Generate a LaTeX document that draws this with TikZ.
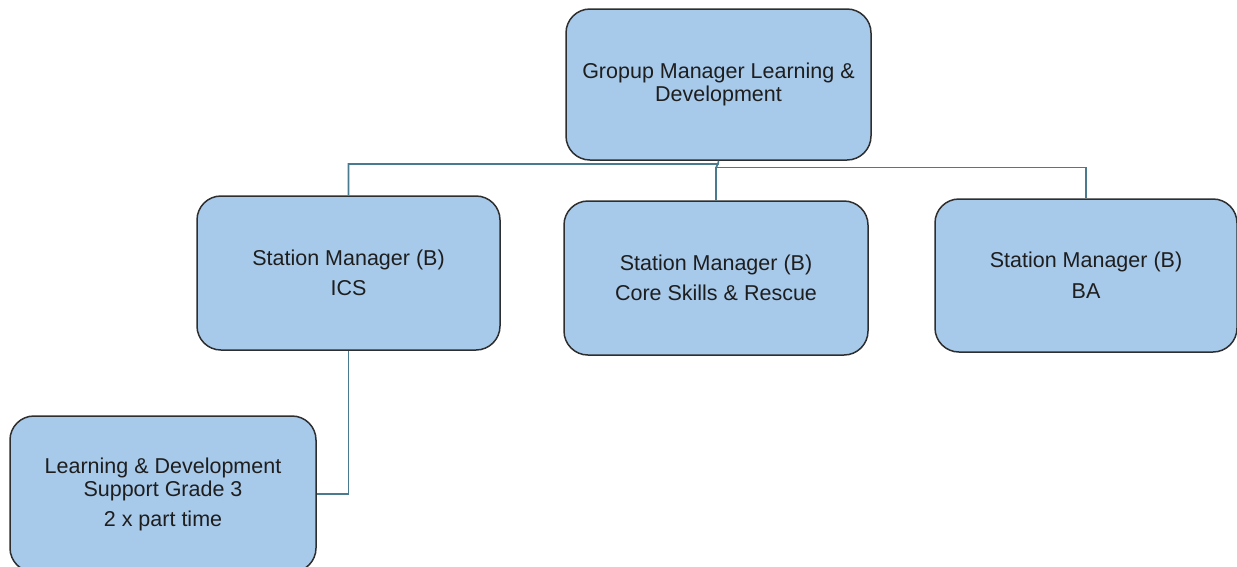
\documentclass[tikz,border=0pt]{standalone}
\usepackage{fontspec}
\setmainfont{Liberation Sans}
\definecolor{boxfill}{HTML}{A7C9EA}
\definecolor{boxline}{HTML}{2E2E2E}
\definecolor{connline}{HTML}{4A7A8E}
\definecolor{txt}{HTML}{1E1E1E}
\tikzset{
  orgbox/.style={draw=boxline, fill=boxfill, line width=1.5pt, rounded corners=24pt,
    align=center, text=txt, inner sep=0pt,
    font=\fontsize{21.5}{23}\selectfont},
  conn/.style={draw=connline, line width=1.6pt}
}
\begin{document}
\begin{tikzpicture}[x=1pt,y=-1pt]
\useasboundingbox (0,0) rectangle (1237,566);
\node[orgbox, minimum width=305pt, minimum height=151pt] (top) at (718.5,84.5)
  {Gropup Manager Learning \&\\Development};
\node[orgbox, minimum width=303pt, minimum height=154pt] (ics) at (348.5,273)
  {Station Manager (B)\\[7pt]ICS};
\node[orgbox, minimum width=304pt, minimum height=154pt] (core) at (716,278)
  {Station Manager (B)\\[7pt]Core Skills \& Rescue};
\node[orgbox, minimum width=302pt, minimum height=153pt] (ba) at (1086,275.5)
  {Station Manager (B)\\[8pt]BA};
\node[orgbox, minimum width=306pt, minimum height=156pt] (ld) at (163,494)
  {Learning \& Development\\Support Grade 3\\[7pt]2 x part time};
\coordinate (b1) at (718,164);
\coordinate (b2) at (716,167.5);
\draw[conn] (top.south) -- (b1) -| (ics.north);
\draw[conn] (b1) -- (b2) -- (core.north);
\draw[conn] (b2) -| (ba.north);
\draw[conn] (ics.south) |- (ld.east);
\end{tikzpicture}
\end{document}
